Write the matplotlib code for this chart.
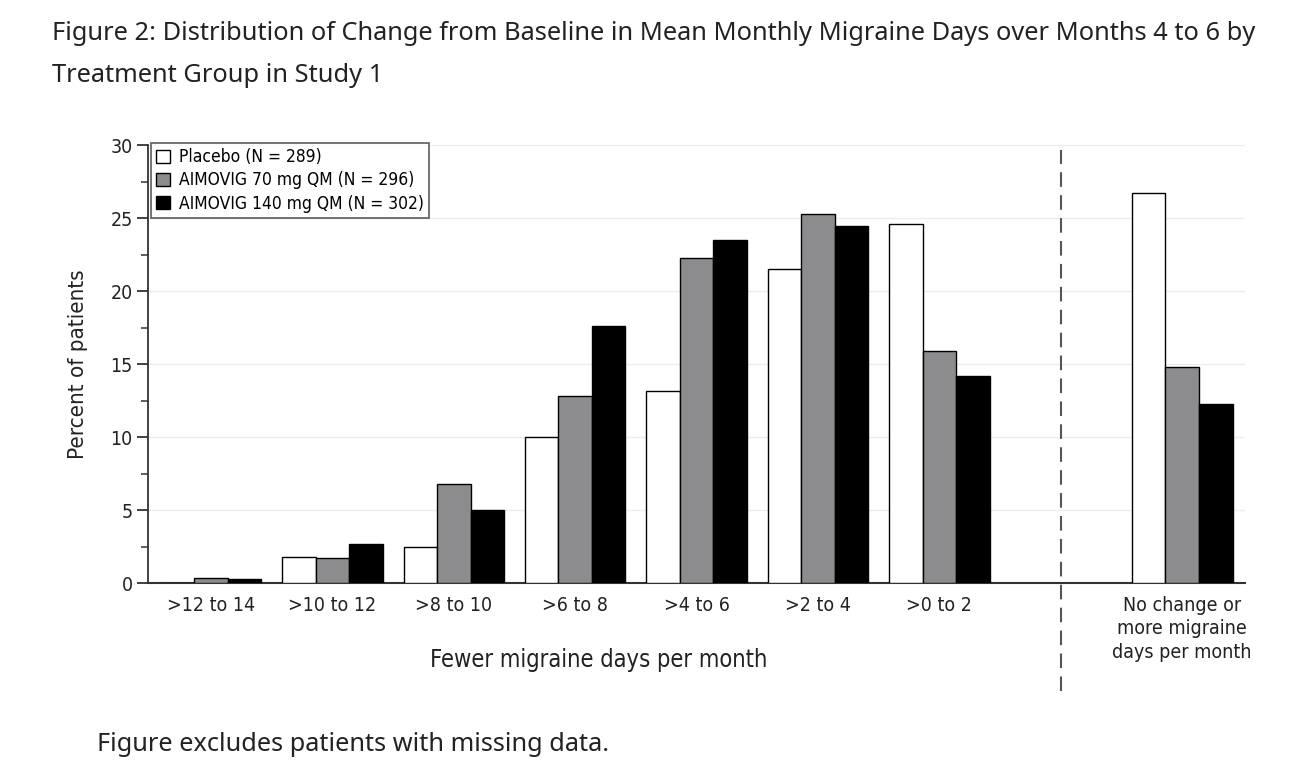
import matplotlib.pyplot as plt
from matplotlib import font_manager as fm
import numpy as np

# データ
categories = [">12 to 14", ">10 to 12", ">8 to 10", ">6 to 8", ">4 to 6",
              ">2 to 4", ">0 to 2", "No change or\nmore migraine\ndays per month"]
positions = [0, 1, 2, 3, 4, 5, 6, 8]
placebo = [0.0, 1.8, 2.5, 10.0, 13.2, 21.5, 24.6, 26.7]
aim70 = [0.35, 1.7, 6.8, 12.8, 22.3, 25.3, 15.9, 14.8]
aim140 = [0.3, 2.7, 5.0, 17.6, 23.5, 24.5, 14.2, 12.3]
labels = ["Placebo (N = 289)", "AIMOVIG 70 mg QM (N = 296)",
          "AIMOVIG 140 mg QM (N = 302)"]


def narrow(size):
    return fm.FontProperties(family="DejaVu Sans", stretch="condensed", size=size)


TITLE_FONT = ["Noto Sans", "DejaVu Sans"]

fig = plt.figure(figsize=(13.14, 7.76), dpi=100)
ax = fig.add_axes([0.1126, 0.2483, 0.8349, 0.5645])

x = np.array(positions, dtype=float)
w = 0.276
ax.bar(x - w, placebo, w, color="white", edgecolor="black", linewidth=1.0,
       label=labels[0], zorder=3)
ax.bar(x, aim70, w, color="#8c8c8e", edgecolor="black", linewidth=1.0,
       label=labels[1], zorder=3)
ax.bar(x + w, aim140, w, color="black", edgecolor="black", linewidth=1.0,
       label=labels[2], zorder=3)

# 軸の設定
ax.set_xlim(-0.519, 8.517)
ax.set_ylim(0, 30)
ax.set_yticks(np.arange(0, 31, 5))
ax.set_yticks(np.arange(0, 30, 2.5), minor=True)
ax.yaxis.grid(True, color="#ececec", linewidth=1.0, zorder=0)
ax.set_axisbelow(True)
for s in ["top", "right"]:
    ax.spines[s].set_visible(False)
ax.spines["left"].set_color("#333333")
ax.spines["left"].set_linewidth(1.3)
ax.spines["bottom"].set_color("#333333")
ax.spines["bottom"].set_linewidth(1.5)
ax.tick_params(axis="y", which="major", length=8, width=1.3, color="#333333",
               pad=3)
ax.tick_params(axis="y", which="minor", length=5, width=1.1, color="#333333")
ax.tick_params(axis="x", length=0, pad=9)
ax.set_xticks(positions)
ax.set_xticklabels(categories, fontproperties=narrow(14), linespacing=1.3,
                   color="#222222")
for t in ax.get_yticklabels():
    t.set_fontproperties(narrow(14))
    t.set_color("#222222")

ax.set_ylabel("Percent of patients", fontproperties=narrow(16),
              color="#222222", labelpad=16)
ax.set_xlabel("Fewer migraine days per month", fontproperties=narrow(17),
              color="#222222")
ax.xaxis.set_label_coords(0.411, -0.147)

# 区切り線
ax.axvline(7.0, ymin=-0.245, ymax=0.99, color="#555555", linewidth=1.5,
           linestyle=(0, (7, 4)), clip_on=False, zorder=4)

leg = ax.legend(loc="upper left", bbox_to_anchor=(0.003, 1.005), frameon=True,
                fancybox=False, edgecolor="#333333", prop=narrow(12.5),
                handlelength=0.8, handleheight=0.8, handletextpad=0.5,
                borderpad=0.3, labelspacing=0.3, borderaxespad=0)
leg.get_frame().set_linewidth(1.2)

# タイトル・注記
fig.text(0.0396, 0.957, "Figure 2: Distribution of Change from Baseline in Mean "
         "Monthly Migraine Days over Months 4 to 6 by", fontsize=18.3,
         family=TITLE_FONT, va="center", color="#222222")
fig.text(0.0396, 0.903, "Treatment Group in Study 1", fontsize=18.3,
         family=TITLE_FONT, va="center", color="#222222")
fig.text(0.0738, 0.040, "Figure excludes patients with missing data.",
         fontsize=18.2, family=TITLE_FONT, va="center", color="#222222")

fig.savefig("out.png", dpi=100)
